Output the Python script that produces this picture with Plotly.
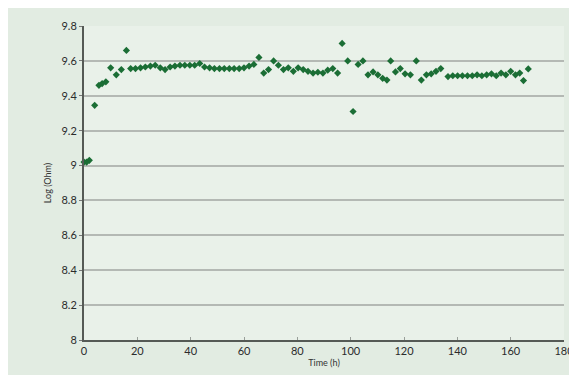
import plotly.graph_objects as go

time_h = [0, 1, 2, 4, 5.6, 6.8, 8.2, 10, 12.1, 14, 15.9,
          17.5, 19.3, 21.2, 23, 24.9, 26.7, 28.6, 30.4, 32.3, 34.1, 36, 37.8, 39.7, 41.5, 43.4,
          45.2, 47.1, 48.9, 50.8, 52.6, 54.5, 56.3, 58.2, 60, 61.9, 63.7, 65.6, 67.4, 69.2,
          71.1, 72.9, 74.8, 76.6, 78.5, 80.3, 82.2, 84, 85.9, 87.7, 89.6, 91.4, 93.3, 95.1,
          96.8, 98.9, 100.9, 102.8, 104.6, 106.5, 108.4, 110.2, 112, 113.6, 115, 116.8, 118.6,
          120.4, 122.4, 124.6, 126.5, 128.4, 130.2, 132, 133.8, 136.5, 138.3, 140.1, 141.9,
          143.8, 145.6, 147.4, 149.2, 151, 152.8, 154.6, 156.4, 158.2, 160, 161.8, 163.4,
          164.8, 166.6]
log_ohm = [9.02, 9.02, 9.03, 9.345, 9.46, 9.47, 9.48, 9.56, 9.52, 9.55, 9.66,
           9.556, 9.556, 9.56, 9.565, 9.57, 9.575, 9.56, 9.55, 9.565, 9.57, 9.575, 9.575, 9.575, 9.575, 9.585,
           9.565, 9.56, 9.556, 9.556, 9.556, 9.556, 9.556, 9.556, 9.56, 9.57, 9.58, 9.62, 9.53, 9.55,
           9.60, 9.575, 9.55, 9.56, 9.54, 9.56, 9.55, 9.54, 9.53, 9.535, 9.53, 9.547, 9.556, 9.53,
           9.70, 9.60, 9.31, 9.58, 9.60, 9.52, 9.537, 9.52, 9.50, 9.49, 9.60, 9.537, 9.556,
           9.526, 9.52, 9.60, 9.49, 9.52, 9.526, 9.54, 9.556, 9.51, 9.515, 9.515, 9.515,
           9.515, 9.515, 9.52, 9.515, 9.52, 9.526, 9.515, 9.53, 9.52, 9.54, 9.52, 9.53,
           9.487, 9.554]

y_tickvals = [8, 8.2, 8.4, 8.6, 8.8, 9, 9.2, 9.4, 9.6, 9.8]
y_ticktext = ["8", "8.2", "8.4", "8.6", "8.8", "9", "9.2", "9.4", "9.6", "9.8"]
x_tickvals = [0, 20, 40, 60, 80, 100, 120, 140, 160, 180]
x_ticktext = ["0", "20", "40", "60", "80", "100", "120", "140", "160", "180"]

fig = go.Figure()
fig.add_trace(go.Scatter(
    x=time_h, y=log_ohm, mode="markers",
    marker=dict(symbol="diamond", size=5.5, color="#1b6e35"),
    showlegend=False, cliponaxis=False,
))

font = dict(family="Lato, DejaVu Sans, sans-serif", size=11, color="#2b2b2b")
fig.update_layout(
    width=577, height=375,
    margin=dict(l=76, r=11, t=18, b=43),
    paper_bgcolor="#e2ece2",
    plot_bgcolor="#e9f1e9",
    font=font,
    xaxis=dict(
        range=[0, 180], tickvals=x_tickvals, ticktext=x_ticktext,
        ticklabeloverflow="allow",
        showgrid=False, zeroline=False,
        showline=True, linecolor="#555a55", linewidth=2,
        ticks="inside", ticklen=3, tickcolor="#9aa09a",
        title=dict(text="Time (h)", font=dict(size=9, color="#333333"), standoff=3),
    ),
    yaxis=dict(
        range=[8, 9.8], tickvals=y_tickvals, ticktext=y_ticktext,
        showgrid=True, gridcolor="#b4b9b4", gridwidth=2, zeroline=False,
        showline=True, linecolor="#555a55", linewidth=2,
        ticks="outside", ticklen=3, tickcolor="#777",
        title=dict(text="Log (Ohm)", font=dict(size=9, color="#333333"), standoff=8),
    ),
)

fig.write_html("out.html")
